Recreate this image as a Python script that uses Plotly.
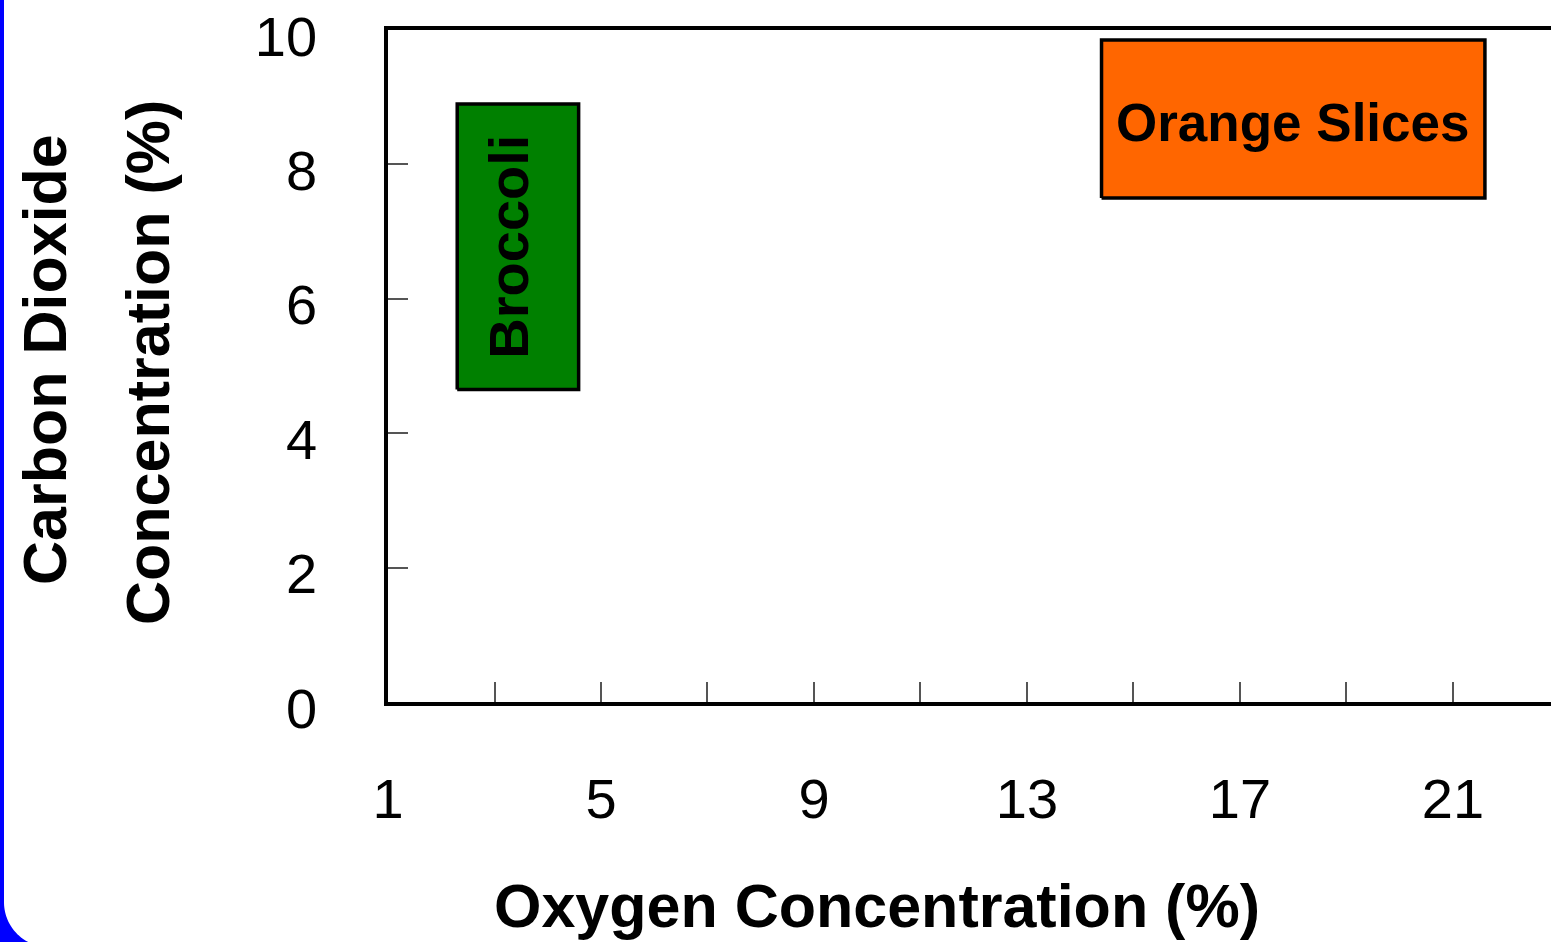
import numpy as np
import plotly.graph_objects as go

# ---- data ----
products = ["Broccoli", "Orange Slices"]
o2_low = [2.3, 14.4]
o2_high = [4.58, 21.6]
co2_low = [4.65, 7.5]
co2_high = [8.9, 9.85]
fills = ["#008000", "#FF6600"]

x_tickvals = [1, 3, 5, 7, 9, 11, 13, 15, 17, 19, 21]
x_ticktext = ["1", "", "5", "", "9", "", "13", "", "17", "", "21"]
y_tickvals = [0, 2, 4, 6, 8, 10]
y_ticktext = ["0", "2", "4", "6", "8", "10"]

W, H = 1551, 942
L, R, T, B = 388, 0, 29.5, 239.5
PW, PH = W - L - R, H - T - B

def px(x):
    return (x - L) / PW

def py(y):
    return (H - B - y) / PH

FONT = "Liberation Sans, Arial, sans-serif"

fig = go.Figure()

for i, name in enumerate(products):
    xs = [o2_low[i], o2_high[i], o2_high[i], o2_low[i], o2_low[i]]
    ys = [co2_low[i], co2_low[i], co2_high[i], co2_high[i], co2_low[i]]
    fig.add_trace(go.Scatter(
        x=xs, y=ys, mode="lines", fill="toself", fillcolor=fills[i],
        line=dict(color="black", width=3.5), hoverinfo="skip", showlegend=False,
    ))

# labels inside the boxes
fig.add_annotation(
    x=(o2_low[0] + o2_high[0]) / 2, y=(co2_low[0] + co2_high[0]) / 2,
    xref="x", yref="y", text="<b>Broccoli</b>", showarrow=False, textangle=-90,
    xanchor="center", yanchor="middle",
    font=dict(family=FONT, size=56, color="black"), xshift=-9,
)
fig.add_annotation(
    x=(o2_low[1] + o2_high[1]) / 2, y=(co2_low[1] + co2_high[1]) / 2,
    xref="x", yref="y", text="<b>Orange Slices</b>", showarrow=False,
    xanchor="center", yanchor="middle",
    font=dict(family=FONT, size=53, color="black"), yshift=-3,
)

# axis titles
fig.add_annotation(x=px(45), y=py(360), xref="paper", yref="paper",
                   text="<b>Carbon Dioxide</b>", showarrow=False, textangle=-90,
                   xanchor="center", yanchor="middle",
                   font=dict(family=FONT, size=61, color="black"))
fig.add_annotation(x=px(148), y=py(362), xref="paper", yref="paper",
                   text="<b>Concentration (%)</b>", showarrow=False, textangle=-90,
                   xanchor="center", yanchor="middle",
                   font=dict(family=FONT, size=61, color="black"))
fig.add_annotation(x=px(877), y=py(907), xref="paper", yref="paper",
                   text="<b>Oxygen Concentration (%)</b>", showarrow=False,
                   xanchor="center", yanchor="middle",
                   font=dict(family=FONT, size=61, color="black"))

# blue frame edge with rounded corner at bottom-left
cx, cy, rad = 49, 903, 45
th = np.linspace(0, np.arcsin((H + 2 - cy) / rad), 30)
pts = [(-10, -10), (4, -10), (4, cy)]
pts += [(cx - rad * np.cos(t), cy + rad * np.sin(t)) for t in th]
pts += [(-10, H + 2)]
path = "M " + " L ".join(f"{px(a):.5f},{py(b):.5f}" for a, b in pts) + " Z"
fig.add_shape(type="path", path=path, xref="paper", yref="paper",
              fillcolor="#0000FF", line=dict(width=0), layer="above")

fig.update_xaxes(
    range=[1, 1 + (W - 389.5) / 53.18], showgrid=False, zeroline=False,
    showline=True, linecolor="black", linewidth=3.5, mirror=True,
    tickmode="array", tickvals=x_tickvals, ticktext=x_ticktext,
    ticks="inside", ticklen=20, tickwidth=1.5, tickcolor="#555",
    tickfont=dict(family=FONT, size=56, color="black"),
    ticklabelstandoff=45, ticklabeloverflow="allow",
)
fig.update_yaxes(
    range=[0, 10], showgrid=False, zeroline=False,
    showline=True, linecolor="black", linewidth=3.5, mirror=False,
    tickmode="array", tickvals=y_tickvals, ticktext=y_ticktext,
    ticks="inside", ticklen=20, tickwidth=1.5, tickcolor="#555",
    tickfont=dict(family=FONT, size=56, color="black"),
    ticklabelstandoff=56, ticklabelshift=6, ticklabeloverflow="allow",
)
fig.update_layout(
    width=W, height=H,
    margin=dict(l=L, r=R, t=T, b=B, pad=0),
    paper_bgcolor="white", plot_bgcolor="white",
    showlegend=False,
)
fig.write_html(
    "out.html",
    config={"displayModeBar": False},
    post_script="document.body.style.margin='0';document.body.style.overflow='hidden';",
)
